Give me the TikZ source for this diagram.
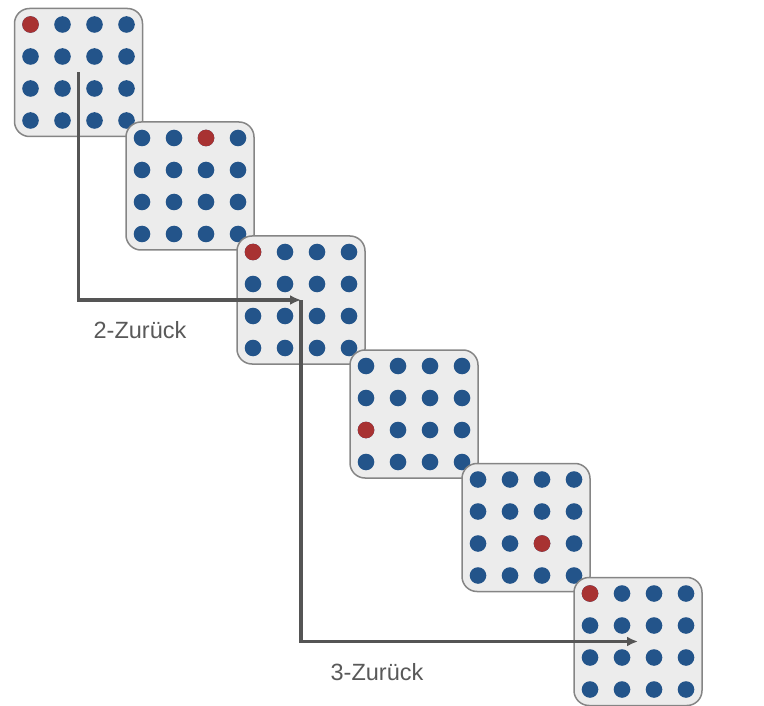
\documentclass[tikz,border=0pt]{standalone}
\usepackage{fontspec}
\setmainfont{Liberation Sans}
\usetikzlibrary{positioning,arrows.meta,calc}
\definecolor{NBGray}{HTML}{ECECEC}
\definecolor{NBLine}{HTML}{858585}
\definecolor{NBBlue}{HTML}{23548A}
\definecolor{NBRed}{HTML}{A83232}
\definecolor{NBArrow}{HTML}{555555}
\definecolor{NBText}{HTML}{595959}

\begin{document}
\begin{tikzpicture}[
    x=1pt, y=-1pt,
    panel/.style={
      draw=NBLine,
      fill=NBGray,
      line width=1.5pt,
      rounded corners=15pt,
      minimum size=128pt,
      inner sep=0pt
    },
    dot/.style={
      fill=NBBlue
    },
    hit/.style={
      fill=NBRed
    },
    arrow/.style={
      -{Latex[length=11pt,width=10pt]},
      line width=3.2pt,
      draw=NBArrow
    },
    lab/.style={
      font=\fontsize{23.5}{28}\selectfont,
      text=NBText
    }
  ]
  \useasboundingbox (0,0) rectangle (764,706);

  % Reizfolge: sechs Gitter, rot markiert ist die aktuelle Position
  \foreach \i/\px/\py/\rc/\rr in {1/78.5/72.5/0/0, 2/190/186/2/0, 3/301/300/0/0,
                                  4/414/414/0/2, 5/526/527.5/2/2, 6/638/641.5/0/0} {
    \node[panel] (p\i) at (\px,\py) {};
    \foreach \c in {0,...,3} {
      \foreach \r in {0,...,3} {
        \fill[dot] ($(p\i.center)+(-48+32*\c,-48+32*\r)$) circle (8.3pt);
      }
    }
    \fill[hit] ($(p\i.center)+(-48+32*\rc,-48+32*\rr)$) circle (8.3pt);
  }

  % Rueckverweise
  \draw[arrow] (p1.center) |- (p3.center);
  \draw[arrow] (p3.center) |- (p6.center);

  \node[lab] (back2) at (140,330) {2-Zurück};
  \node[lab] (back3) at (377,672) {3-Zurück};

\end{tikzpicture}
\end{document}
